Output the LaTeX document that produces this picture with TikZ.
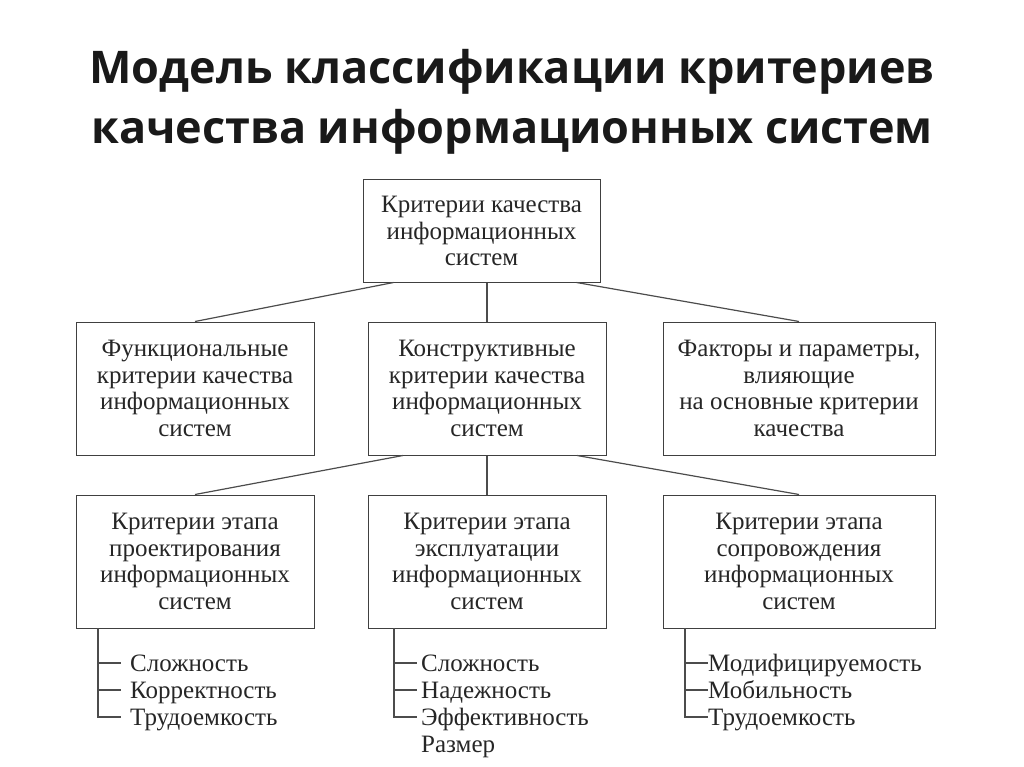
\documentclass[tikz,border=0pt]{standalone}
\usepackage{fontspec}
\setmainfont{Liberation Serif}
\newfontfamily\titlefont{Open Sans}
\begin{document}
\begin{tikzpicture}[x=1pt,y=-1pt,
  bx/.style={draw=black!75,line width=1pt,inner sep=0pt,align=center,font=\fontsize{25}{26.5}\selectfont,text=black!85},
  ln/.style={draw=black!70,line width=1.2pt},
  it/.style={anchor=base west,inner sep=0pt,font=\fontsize{25}{26}\selectfont,text=black!85}]
\useasboundingbox (0,0) rectangle (1024,767);
\node[font=\titlefont\bfseries\fontsize{45}{60}\selectfont,align=center,text=black!90] (title) at (512,102) {Модель классификации критериев\\качества информационных систем};
\node[bx,minimum width=237pt,minimum height=102pt] (top) at (481.5,231) {Критерии качества\\информационных\\систем};
\node[bx,minimum width=238pt,minimum height=133pt] (f) at (195,388.5) {Функциональные\\критерии качества\\информационных\\систем};
\node[bx,minimum width=238pt,minimum height=133pt] (k) at (487,388.5) {Конструктивные\\критерии качества\\информационных\\систем};
\node[bx,minimum width=272pt,minimum height=133pt] (p) at (799,388.5) {Факторы и параметры,\\влияющие\\на основные критерии\\качества};
\node[bx,minimum width=238pt,minimum height=133pt] (a) at (195,561.5) {Критерии этапа\\проектирования\\информационных\\систем};
\node[bx,minimum width=238pt,minimum height=133pt] (b) at (487,561.5) {Критерии этапа\\эксплуатации\\информационных\\систем};
\node[bx,minimum width=272pt,minimum height=133pt] (c) at (799,561.5) {Критерии этапа\\сопровождения\\информационных\\систем};
\draw[ln] (top.south) ++(-88,0) -- (f.north);
\draw[ln] (top.south) ++(95,0) -- (p.north);
\draw[ln] (k.north |- top.south) -- (k.north);
\draw[ln] (k.south) ++(-84,0) -- (a.north);
\draw[ln] (k.south) ++(90,0) -- (c.north);
\draw[ln] (k.south) -- (b.north);
% lists
\coordinate (la) at (98,628);
\coordinate (lb) at (394,628);
\coordinate (lc) at (685,628);
\draw[ln] (la) -- ++(0,89) -- ++(23,0);
\draw[ln] (98,663) -- ++(23,0); \draw[ln] (98,690) -- ++(23,0);
\node[it] (a1) at (130,671) {Сложность};
\node[it] (a2) at (130,698) {Корректность};
\node[it] (a3) at (130,725) {Трудоемкость};
\draw[ln] (lb) -- ++(0,89) -- ++(23,0);
\draw[ln] (394,663) -- ++(23,0); \draw[ln] (394,690) -- ++(23,0);
\node[it] (b1) at (421,671) {Сложность};
\node[it] (b2) at (421,698) {Надежность};
\node[it] (b3) at (421,725) {Эффективность};
\node[it] (b4) at (421,752) {Размер};
\draw[ln] (lc) -- ++(0,89) -- ++(23,0);
\draw[ln] (685,663) -- ++(23,0); \draw[ln] (685,690) -- ++(23,0);
\node[it] (c1) at (708,671) {Модифицируемость};
\node[it] (c2) at (708,698) {Мобильность};
\node[it] (c3) at (708,725) {Трудоемкость};
\end{tikzpicture}
\end{document}
